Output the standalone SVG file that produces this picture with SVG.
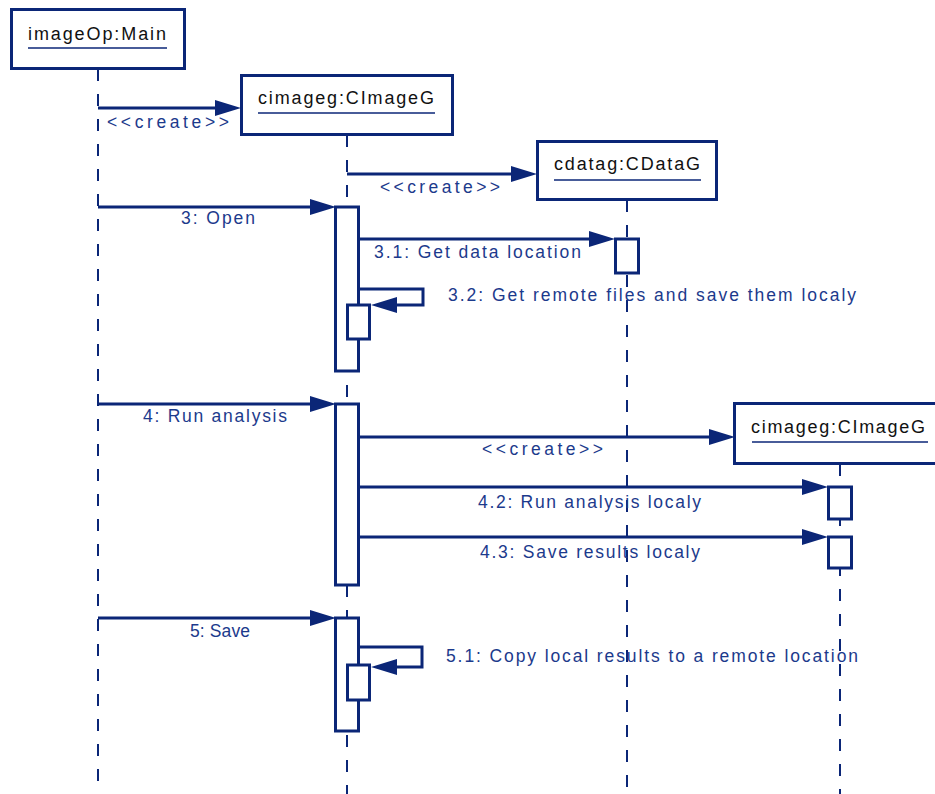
<svg xmlns="http://www.w3.org/2000/svg" width="935" height="794" viewBox="0 0 935 794">
  <defs>
    <marker id="head" markerUnits="userSpaceOnUse" markerWidth="26" markerHeight="16" refX="18" refY="8" orient="auto">
      <path d="M0,0 L26,8 L0,16 z" fill="#0b2677"/>
    </marker>
  </defs>
  <style>
    .obj { fill: #ffffff; stroke: #0b2677; stroke-width: 3; }
    .name { font-family: "Liberation Sans", Arial, sans-serif; font-size: 18px; fill: #111111; }
    .uline { stroke: #0b2677; stroke-width: 1.6; }
    .life { stroke: #0b2677; stroke-width: 2; stroke-dasharray: 12 13; fill: none; }
    .act { fill: #ffffff; stroke: #0b2677; stroke-width: 3; }
    .msg { stroke: #0b2677; stroke-width: 3; fill: none; marker-end: url(#head); }
    .lbl { font-family: "Liberation Sans", Arial, sans-serif; font-size: 17.5px; fill: #1c3a8c; }
  </style>

  <!-- lifelines -->
  <g id="lifelines">
    <line class="life" x1="98" y1="69" x2="98" y2="794"/>
    <line class="life" x1="347" y1="135" x2="347" y2="794"/>
    <line class="life" x1="627" y1="200" x2="627" y2="794"/>
    <line class="life" x1="840" y1="464" x2="840" y2="794"/>
  </g>

  <!-- objects -->
  <g id="main">
    <rect class="obj" x="11.5" y="9.5" width="173" height="59"/>
    <text class="name" x="28" y="40" textLength="138" lengthAdjust="spacing">imageOp:Main</text>
    <line class="uline" x1="28" y1="48" x2="167" y2="48"/>
  </g>
  <g id="cimageg1">
    <rect class="obj" x="241.5" y="75.5" width="211" height="59"/>
    <text class="name" x="258" y="104" textLength="176" lengthAdjust="spacing">cimageg:CImageG</text>
    <line class="uline" x1="258" y1="113" x2="435" y2="113"/>
  </g>
  <g id="cdatag">
    <rect class="obj" x="537.5" y="141.5" width="179" height="58"/>
    <text class="name" x="554" y="170" textLength="146" lengthAdjust="spacing">cdatag:CDataG</text>
    <line class="uline" x1="554" y1="180" x2="701" y2="180"/>
  </g>
  <g id="cimageg2">
    <rect class="obj" x="734.5" y="403.5" width="220" height="60"/>
    <text class="name" x="751" y="433" textLength="174" lengthAdjust="spacing">cimageg:CImageG</text>
    <line class="uline" x1="752" y1="442" x2="928" y2="442"/>
  </g>

  <!-- activations -->
  <g id="activations">
    <rect class="act" x="335.5" y="207" width="23" height="164"/>
    <rect class="act" x="615.5" y="239" width="23" height="34"/>
    <rect class="act" x="347.5" y="305" width="22" height="34"/>
    <rect class="act" x="335.5" y="404" width="23" height="181"/>
    <rect class="act" x="828.5" y="487" width="23" height="32"/>
    <rect class="act" x="828.5" y="537" width="23" height="31"/>
    <rect class="act" x="335.5" y="618" width="23" height="113"/>
    <rect class="act" x="347.5" y="665" width="22" height="35"/>
  </g>

  <!-- messages -->
  <g id="connectors">
    <path class="msg" d="M98,108 H233"/>
    <path class="msg" d="M347,174 H529"/>
    <path class="msg" d="M98,207 H328"/>
    <path class="msg" d="M359,239 H607"/>
    <path class="msg" d="M359,289 H423 V305 H379"/>
    <path class="msg" d="M98,404 H328"/>
    <path class="msg" d="M358,437 H727"/>
    <path class="msg" d="M358,487 H820"/>
    <path class="msg" d="M358,537 H820"/>
    <path class="msg" d="M98,618 H328"/>
    <path class="msg" d="M358,647 H422 V667 H379"/>
  </g>

  <!-- message labels -->
  <g id="labels">
    <text class="lbl" x="107" y="128" textLength="122" lengthAdjust="spacing">&lt;&lt;create&gt;&gt;</text>
    <text class="lbl" x="380" y="193" textLength="120" lengthAdjust="spacing">&lt;&lt;create&gt;&gt;</text>
    <text class="lbl" x="181" y="224" textLength="74" lengthAdjust="spacing">3: Open</text>
    <text class="lbl" x="374" y="258" textLength="207" lengthAdjust="spacing">3.1: Get data location</text>
    <text class="lbl" x="448" y="301" textLength="408" lengthAdjust="spacing">3.2: Get remote files and save them localy</text>
    <text class="lbl" x="143" y="422" textLength="144" lengthAdjust="spacing">4: Run analysis</text>
    <text class="lbl" x="482" y="455" textLength="121" lengthAdjust="spacing">&lt;&lt;create&gt;&gt;</text>
    <text class="lbl" x="478" y="508" textLength="223" lengthAdjust="spacing">4.2: Run analysis localy</text>
    <text class="lbl" x="480" y="558" textLength="220" lengthAdjust="spacing">4.3: Save results localy</text>
    <text class="lbl" x="190" y="637" textLength="60" lengthAdjust="spacing">5: Save</text>
    <text class="lbl" x="446" y="662" textLength="412" lengthAdjust="spacing">5.1: Copy local results to a remote location</text>
  </g>
</svg>
